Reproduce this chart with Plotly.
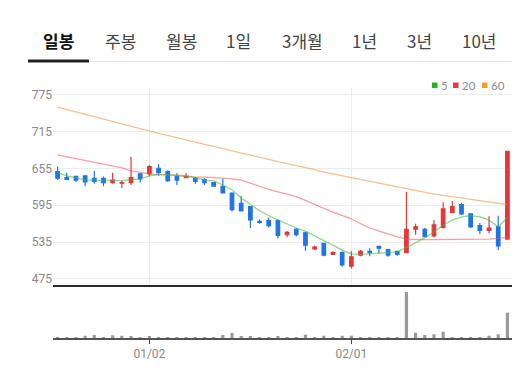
import plotly.graph_objects as go
from plotly.subplots import make_subplots

# ---------------- data ----------------
dates = [
    "2023-12-14", "2023-12-15", "2023-12-18", "2023-12-19", "2023-12-20", "2023-12-21", "2023-12-22",
    "2023-12-26", "2023-12-27", "2023-12-28",
    "2024-01-02", "2024-01-03", "2024-01-04", "2024-01-05", "2024-01-08", "2024-01-09", "2024-01-10",
    "2024-01-11", "2024-01-12", "2024-01-15", "2024-01-16", "2024-01-17", "2024-01-18", "2024-01-19",
    "2024-01-22", "2024-01-23", "2024-01-24", "2024-01-25", "2024-01-26", "2024-01-29", "2024-01-30",
    "2024-01-31",
    "2024-02-01", "2024-02-02", "2024-02-05", "2024-02-06", "2024-02-07", "2024-02-08", "2024-02-13",
    "2024-02-14", "2024-02-15", "2024-02-16", "2024-02-19", "2024-02-20", "2024-02-21", "2024-02-22",
    "2024-02-23", "2024-02-26", "2024-02-27", "2024-02-28",
]
open_ = [650, 640, 642, 643, 639, 639, 632, 631, 632, 646,
         646, 655, 650, 642, 640, 639, 637, 632, 626, 615,
         598, 593, 569, 570, 570, 547, 556, 550, 524, 533,
         515, 518, 496, 514, 520, 528, 523, 520, 518, 556,
         556, 545, 559, 583, 596, 581, 562, 554, 560, 540]
high = [658, 648, 643, 644, 651, 642, 648, 635, 674, 647,
        661, 662, 652, 647, 647, 641, 639, 633, 638, 616,
        610, 594, 572, 575, 572, 553, 558, 552, 529, 534,
        520, 520, 520, 522, 525, 528, 524, 521, 617, 565,
        558, 571, 600, 602, 599, 581, 566, 577, 578, 683]
low = [636, 636, 633, 626, 630, 626, 630, 623, 628, 632,
       642, 643, 633, 628, 639, 630, 628, 625, 614, 585,
       585, 558, 565, 559, 541, 543, 544, 521, 522, 512,
       514, 495, 492, 512, 512, 517, 511, 513, 517, 547,
       543, 543, 557, 582, 579, 558, 548, 549, 522, 539]
close = [639, 637, 636, 633, 634, 632, 636, 632, 640, 638,
         658, 648, 635, 636, 642, 634, 632, 626, 615, 588,
         586, 571, 567, 562, 546, 551, 547, 530, 527, 514,
         518, 498, 511, 520, 518, 525, 514, 515, 556, 560,
         544, 563, 589, 593, 581, 560, 554, 558, 529, 683]
volume = [100, 100, 100, 230, 300, 100, 270, 230, 200, 100,
          200, 100, 100, 100, 100, 100, 100, 100, 300, 500,
          200, 200, 100, 100, 200, 100, 100, 330, 100, 230,
          100, 230, 230, 100, 100, 100, 100, 100, 4600, 530,
          300, 370, 630, 100, 100, 100, 100, 230, 370, 2530]
ma5 = [648, 643, 640, 636, 636, 635, 635, 635, 636, 638,
       643, 645, 645, 643, 641, 640, 636, 635, 628, 620,
       607, 597, 586, 578, 571, 565, 558, 553, 545, 537,
       529, 522, 516, 515, 516, 517, 518, 519, 526, 534,
       542, 552, 563, 571, 576, 578, 576, 571, 560, 575]
ma20 = [677, 674, 671, 668, 666, 663, 660, 656, 651, 648,
        646, 645, 645, 644, 643, 641, 641, 640, 640, 638,
        636, 631, 625, 621, 617, 613, 609, 603, 596, 590,
        584, 578, 573, 565, 558, 553, 548, 544, 540, 539,
        539, 539, 539, 539, 539, 539, 539, 540, 541, 543]
ma60 = [755, 751, 747, 744, 740, 736, 732, 728, 724, 720,
        716, 712, 709, 705, 702, 698, 694, 691, 687, 684,
        680, 677, 673, 670, 666, 663, 660, 656, 653, 649,
        646, 643, 640, 636, 633, 630, 627, 624, 621, 618,
        615, 613, 611, 609, 607, 604, 602, 600, 598, 596]
price_ticks = [475, 535, 595, 655, 715, 775]
date_tick_vals = ["2024-01-02", "2024-02-01"]
date_tick_text = ["01/02", "02/01"]
tabs = ["일봉", "주봉", "월봉", "1일", "3개월", "1년", "3년", "10년"]
legend_labels = ["5", "20", "60"]

# ---------------- layout helpers ----------------
# the page body has an 8px margin, so the figure is placed at (8, 8) in the page
OFF = 8
W, H = 520 - OFF, 373 - OFF
ML, MR, MT, MB = 53 - OFF, 8, 88 - OFF, 373 - 338
PW = W - ML - MR
PH = H - MT - MB


def px(xp):  # page x -> paper
    return (xp - OFF - ML) / PW


def py(yp):  # page y -> paper
    return (H - MB - (yp - OFF)) / PH


RED = "#e8353c"
BLUE = "#1f74e6"

fig = make_subplots(rows=2, cols=1, shared_xaxes=True)

fig.add_trace(go.Scatter(x=dates, y=ma60, mode="lines", line=dict(color="rgba(242,150,70,0.6)", width=1.3),
                         hoverinfo="skip", showlegend=False), row=1, col=1)
fig.add_trace(go.Scatter(x=dates, y=ma20, mode="lines", line=dict(color="rgba(238,80,90,0.55)", width=1.3),
                         hoverinfo="skip", showlegend=False), row=1, col=1)
fig.add_trace(go.Scatter(x=dates, y=ma5, mode="lines", line=dict(color="rgba(60,190,60,0.6)", width=1.3),
                         hoverinfo="skip", showlegend=False), row=1, col=1)
fig.add_trace(go.Candlestick(
    x=dates, open=open_, high=high, low=low, close=close,
    increasing=dict(line=dict(color=RED, width=1.2), fillcolor=RED),
    decreasing=dict(line=dict(color=BLUE, width=1.2), fillcolor=BLUE),
    whiskerwidth=0, showlegend=False), row=1, col=1)
fig.add_trace(go.Bar(x=dates, y=volume, marker=dict(color="#9a9a9a", line=dict(width=0)),
                     width=0.35, showlegend=False), row=2, col=1)

fig.update_layout(
    width=W, height=H,
    margin=dict(l=ML, r=MR, t=MT, b=MB),
    paper_bgcolor="white", plot_bgcolor="white",
    font=dict(family="Roboto, 'Noto Sans CJK KR', sans-serif", color="#888"),
    boxgap=0.45,
    xaxis=dict(type="category", categoryorder="array", categoryarray=dates, range=[-0.5, 49.5],
               rangeslider=dict(visible=False), showgrid=True, gridcolor="#ececec", gridwidth=1,
               tickvals=date_tick_vals, showticklabels=False, ticks="",
               showline=True, linecolor="#2a2a2a", linewidth=1.5),
    xaxis2=dict(type="category", categoryorder="array", categoryarray=dates, range=[-0.5, 49.5],
                rangeslider=dict(visible=False), showgrid=False,
                tickvals=date_tick_vals, ticktext=date_tick_text, ticks="outside", ticklen=4,
                tickcolor="#444", tickfont=dict(size=12, color="#888"),
                showline=True, linecolor="#555", linewidth=1.5),
    yaxis=dict(domain=[py(284.5), 1], range=[466, 786], tickvals=price_ticks,
               showgrid=True, gridcolor="#ececec", zeroline=False,
               tickfont=dict(size=12, color="#888"), ticks="", showline=False),
    yaxis2=dict(domain=[0, py(290)], range=[0, 4800], showticklabels=False, showgrid=False,
                zeroline=False, showline=False),
)

# tabs
tab_x = [58, 120, 181, 238, 302, 364, 419, 479]
annotations = []
for i, (t, xc) in enumerate(zip(tabs, tab_x)):
    annotations.append(dict(
        x=px(xc), y=py(40), xref="paper", yref="paper", showarrow=False,
        text=("<b>%s</b>" % t) if i == 0 else t,
        xanchor="center", yanchor="middle",
        font=dict(family="'Noto Sans CJK KR', Roboto, sans-serif", size=17,
                  color="#111" if i == 0 else "#444")))

shapes = [
    dict(type="line", xref="paper", yref="paper", x0=px(28), x1=px(512), y0=py(61.5), y1=py(61.5),
         line=dict(color="#e6e6e6", width=1)),
    dict(type="line", xref="paper", yref="paper", x0=px(28), x1=px(89), y0=py(61), y1=py(61),
         line=dict(color="#222", width=3)),
]

# legend
leg_colors = ["#22b522", "#f03a42", "#f39a35"]
leg_sq_x = [432, 453, 482]
for lab, col, sx in zip(legend_labels, leg_colors, leg_sq_x):
    shapes.append(dict(type="rect", xref="paper", yref="paper", x0=px(sx), x1=px(sx + 5.5),
                       y0=py(88), y1=py(82.5), fillcolor=col, line=dict(width=0)))
    annotations.append(dict(x=px(sx + 6.5), y=py(85.3), xref="paper", yref="paper", showarrow=False,
                            text=lab, xanchor="left", yanchor="middle",
                            font=dict(family="Lato, Roboto, sans-serif", size=11.5, color="#8a8a8a")))

fig.update_layout(annotations=annotations, shapes=shapes)

fig.write_html("out.html")
